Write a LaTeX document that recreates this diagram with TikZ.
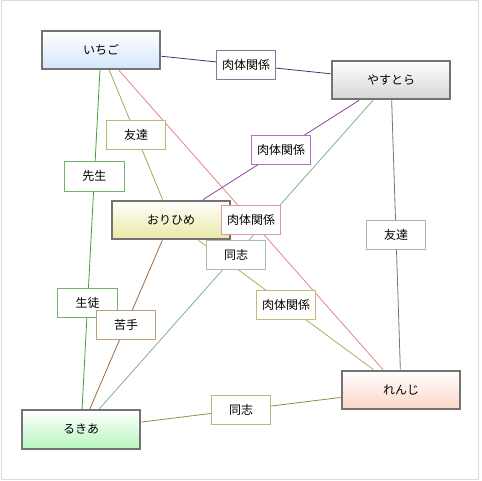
\documentclass[tikz,border=0pt]{standalone}
\usepackage{fontspec}
\setmainfont{Noto Sans CJK JP}
\usepackage{xcolor}
\usetikzlibrary{calc}
\pgfdeclarelayer{bg}
\pgfsetlayers{bg,main}

\definecolor{ichigofill}{HTML}{D4E6FA}
\definecolor{yasufill}{HTML}{D6D6D6}
\definecolor{orifill}{HTML}{E8E8A4}
\definecolor{renjifill}{HTML}{FBD6C6}
\definecolor{rukiafill}{HTML}{B6F6BE}
\definecolor{navyline}{HTML}{3A3A6C}
\definecolor{navybox}{HTML}{7C7C9C}
\definecolor{oliveline}{HTML}{A8A850}
\definecolor{olivebox}{HTML}{B8B878}
\definecolor{pinkline}{HTML}{E08494}
\definecolor{pinkbox}{HTML}{E09898}
\definecolor{purpleline}{HTML}{9040A0}
\definecolor{purplebox}{HTML}{B070C0}
\definecolor{greenline}{HTML}{40A040}
\definecolor{greenbox}{HTML}{70B070}
\definecolor{sageline}{HTML}{80B090}
\definecolor{sagebox}{HTML}{A8C0A8}
\definecolor{taupeline}{HTML}{8A7060}
\definecolor{taupebox}{HTML}{B8B0A0}
\definecolor{goldline}{HTML}{B8A860}
\definecolor{goldbox}{HTML}{C8B878}
\definecolor{brownline}{HTML}{A06840}
\definecolor{brownbox}{HTML}{B8A080}
\definecolor{mossline}{HTML}{909040}
\definecolor{mossbox}{HTML}{B8B880}
\definecolor{framegray}{HTML}{D8DCD8}

\begin{document}
\begin{tikzpicture}[
  x=0.75pt, y=-0.75pt,
  font=\fontsize{9}{10}\selectfont,
  person/.style={draw=black!55, line width=1.5pt, inner sep=0pt, minimum width=89pt, minimum height=29pt, top color=white, bottom color=#1},
  tag/.style={draw=#1, line width=0.75pt, fill=white, inner sep=0pt, minimum width=44.5pt, minimum height=22pt},
  rel/.style={draw=#1, line width=0.6pt}
]
\useasboundingbox (0,0) rectangle (482,481);
\draw[framegray, line width=0.75pt] (1,0.5) rectangle (478.5,479);

% characters
\node[person=ichigofill] (ichigo) at (101,50) {いちご};
\node[person=yasufill] (yasutora) at (391,80) {やすとら};
\node[person=orifill] (orihime) at (171,220) {おりひめ};
\node[person=renjifill] (renji) at (401,390) {れんじ};
\node[person=rukiafill] (rukia) at (81,429.5) {るきあ};

% relations
\begin{pgfonlayer}{bg}
\draw[rel=navyline] (ichigo) -- (yasutora);
\draw[rel=oliveline] (ichigo) -- (orihime);
\draw[rel=greenline] (ichigo) -- (rukia);
\draw[rel=pinkline] (ichigo) -- (renji);
\draw[rel=purpleline] (yasutora) -- (orihime);
\draw[rel=sageline] (yasutora) -- (rukia);
\draw[rel=taupeline] (yasutora) -- (renji);
\draw[rel=goldline] (orihime) -- (renji);
\draw[rel=brownline] (orihime) -- (rukia);
\draw[rel=mossline] (rukia) -- (renji);
\end{pgfonlayer}

\node[tag=navybox] (iy) at ($(ichigo)!0.5!(yasutora)$) {肉体関係};
\node[tag=olivebox] (io) at ($(ichigo)!0.5!(orihime)$) {友達};
\node[tag=greenbox] (ir) at ($(ichigo)!0.333!(rukia)$) {先生};
\node[tag=greenbox] (ri) at ($(ichigo)!0.667!(rukia)$) {生徒};
\node[tag=purplebox] (yo) at ($(yasutora)!0.5!(orihime)$) {肉体関係};
\node[tag=pinkbox] (irj) at ($(ichigo)!0.5!(renji)$) {肉体関係};
\node[tag=taupebox] (yrj) at ($(yasutora)!0.5!(renji)$) {友達};
\node[tag=sagebox] (yr) at ($(yasutora)!0.5!(rukia)$) {同志};
\node[tag=goldbox] (orj) at ($(orihime)!0.5!(renji)$) {肉体関係};
\node[tag=brownbox] (or) at ($(orihime)!0.5!(rukia)$) {苦手};
\node[tag=mossbox] (rrj) at ($(rukia)!0.5!(renji)$) {同志};
\end{tikzpicture}
\end{document}
